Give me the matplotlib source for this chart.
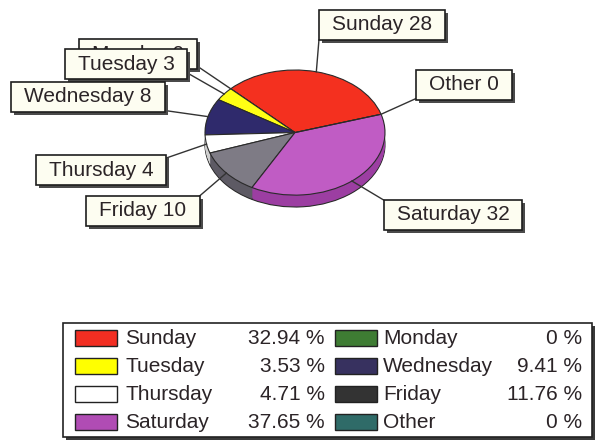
import numpy as np
import matplotlib.pyplot as plt
from matplotlib.patches import Rectangle

plt.rcParams['font.family'] = ['Liberation Sans', 'DejaVu Sans']

# data
days   = ['Sunday', 'Monday', 'Tuesday', 'Wednesday', 'Thursday', 'Friday', 'Saturday', 'Other']
counts = [28, 0, 3, 8, 4, 10, 32, 0]

# styles
top_colors    = ['#f4301f', '#3f7a32', '#ffff14', '#2f2a6c', '#ffffff', '#7e7b85', '#c05cc4', '#2f6b68']
side_colors   = ['#c02418', '#2f5a26', '#c8c800', '#1f1c4a', '#cfcfcf', '#5d5a64', '#9c3ea2', '#214c4a']
legend_colors = ['#f22e22', '#3e7c33', '#ffff00', '#37315f', '#ffffff', '#333333', '#b04cb4', '#2f6b68']

# label box centres (pixels from top-left) and the corner the leader leaves from
label_pos = {'Sunday': (382, 25), 'Monday': (138, 54), 'Tuesday': (126, 64),
             'Wednesday': (88, 97), 'Thursday': (101, 170), 'Friday': (143, 211),
             'Saturday': (453, 215), 'Other': (464, 85)}
label_corner = {'Sunday': (0, 1), 'Monday': (1, 0.9), 'Tuesday': (1, 0.8),
                'Wednesday': (1, 0.95), 'Thursday': (1, 0.1), 'Friday': (1, 0),
                'Saturday': (0, 0), 'Other': (0, 0.95)}

W, H = 596, 441
start = 17.
depth = 0.19
edge = '#2a2a2a'
txtc = '#2b2427'

fig = plt.figure(figsize=(W / 100, H / 100), dpi=100)

# pie axes: an ellipse 180 x 125 px plus a 12 px thick side
px0, px1, py0, py1 = 205, 385, 70, 207
pax = fig.add_axes([px0 / W, 1 - py1 / H, (px1 - px0) / W, (py1 - py0) / H])

nl = 12
pax.pie(counts, colors=side_colors, startangle=start, center=(0, -depth),
        wedgeprops=dict(edgecolor=edge, linewidth=0.8))
for k in np.linspace(depth, 0, nl, endpoint=False)[1:]:
    pax.pie(counts, colors=side_colors, startangle=start, center=(0, -k),
            wedgeprops=dict(linewidth=0))
pax.pie(counts, colors=top_colors, startangle=start,
        wedgeprops=dict(edgecolor=edge, linewidth=0.8))
pax.set_aspect('auto')
pax.set_xlim(-1, 1)
pax.set_ylim(-1 - depth, 1)
pax.axis('off')

# overlay axes in pixel units
ax = fig.add_axes([0, 0, 1, 1])
ax.set_xlim(0, W)
ax.set_ylim(H, 0)
ax.axis('off')

tot = float(sum(counts))
angles = start + 360. * np.cumsum([0] + counts[:-1]) / tot
mids = angles + 180. * np.array(counts) / tot

texts = []
for i, (d, c) in enumerate(zip(days, counts)):
    x, y = label_pos[d]
    t = ax.text(x, y, f'{d} {c}', ha='center', va='center', fontsize=15,
                color=txtc, zorder=10 + 4 * i)
    texts.append(t)

fig.canvas.draw()
r = fig.canvas.get_renderer()

for i, (d, t) in enumerate(zip(days, texts)):
    bb = t.get_window_extent(r)
    bw = bb.width + 26
    bh = 30
    x, y = label_pos[d]
    bx, by = x - bw / 2, y - bh / 2
    z = 10 + 4 * i
    ax.add_patch(Rectangle((bx + 3, by + 3), bw, bh, facecolor='#4a4a4a',
                           edgecolor='none', zorder=z - 2))
    ax.add_patch(Rectangle((bx, by), bw, bh, facecolor='#fdfdf1',
                           edgecolor='#1e1e1e', linewidth=1.2, zorder=z - 1))
    # leader line to the rim of the slice
    th = np.radians(mids[i])
    ex, ey = ax.transData.inverted().transform(
        pax.transData.transform((np.cos(th), np.sin(th))))
    fx, fy = label_corner[d]
    ax.plot([bx + fx * bw, ex], [by + fy * bh, ey], color='#333333',
            linewidth=1.0, zorder=2)

# legend table
lx0, lx1, ly0, ly1 = 63, 592, 323, 437
ax.add_patch(Rectangle((lx0 + 3, ly0 + 3), lx1 - lx0, ly1 - ly0,
                       facecolor='#3a3a3a', edgecolor='none', zorder=3))
ax.add_patch(Rectangle((lx0, ly0), lx1 - lx0, ly1 - ly0, facecolor='white',
                       edgecolor='#222222', linewidth=1.2, zorder=4))

row_y = [338, 366, 394, 422]
sw_x = [75, 335]
name_x = [125, 383]
pct_x = [325, 582]
for i, (d, c) in enumerate(zip(days, counts)):
    row, col = i // 2, i % 2
    y = row_y[row]
    ax.add_patch(Rectangle((sw_x[col], y - 8), 42, 16, facecolor=legend_colors[i],
                           edgecolor='#222222', linewidth=1.0, zorder=5))
    pct = 100. * c / tot
    ptxt = '0 %' if c == 0 else f'{pct:.2f} %'
    ax.text(name_x[col], y, d, ha='left', va='center', fontsize=15,
            color=txtc, zorder=6)
    ax.text(pct_x[col], y, ptxt, ha='right', va='center', fontsize=15,
            color=txtc, zorder=6)

fig.savefig('out.png', dpi=100)
plt.close(fig)
